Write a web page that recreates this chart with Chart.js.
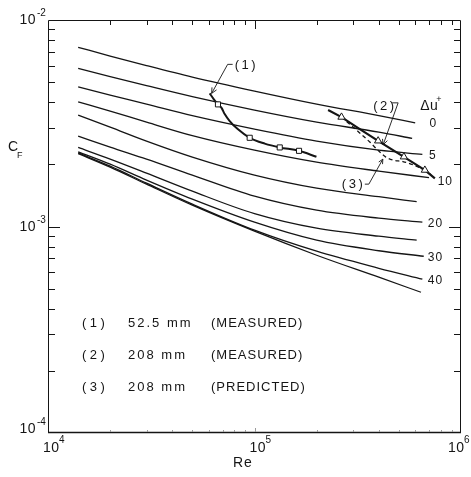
<!DOCTYPE html>
<html>
<head>
<meta charset="utf-8">
<title>Skin friction coefficient vs Reynolds number</title>
<script src="https://cdn.jsdelivr.net/npm/chart.js@4.4.1/dist/chart.umd.min.js"></script>
<style>
  html, body { margin: 0; padding: 0; background: #ffffff; }
  canvas { display: block; }
</style>
</head>
<body>
<canvas id="chart" width="471" height="477"></canvas>
<script>
// Reynolds numbers at which every Δu+ curve is tabulated (each curve's last point follows separately)
const reGrid = [1.4e4, 2e4, 3e4, 5e4, 1e5, 2e5, 4e5];

// Δu+ curves, top to bottom: Cf on reGrid, then Cf at the curve's last Re
const cfCurve1  = [7.375e-3, 6.692e-3, 6.017e-3, 5.293e-3, 4.528e-3, 3.916e-3, 3.444e-3, 3.178e-3];
const cfCurve2  = [5.833e-3, 5.322e-3, 4.814e-3, 4.258e-3, 3.663e-3, 3.203e-3, 2.865e-3, 2.671e-3];
const cfCurve3  = [4.750e-3, 4.330e-3, 3.916e-3, 3.444e-3, 2.963e-3, 2.591e-3, 2.343e-3, 2.234e-3];
const cfCurve4  = [4.018e-3, 3.622e-3, 3.203e-3, 2.755e-3, 2.343e-3, 2.049e-3, 1.854e-3, 1.724e-3];
const cfCurve5  = [3.463e-3, 3.029e-3, 2.591e-3, 2.168e-3, 1.773e-3, 1.533e-3, 1.394e-3, 1.319e-3];
const cfCurve6  = [2.740e-3, 2.423e-3, 2.120e-3, 1.773e-3, 1.402e-3, 1.199e-3, 1.097e-3, 1.049e-3];
const cfCurve7  = [2.415e-3, 2.120e-3, 1.813e-3, 1.483e-3, 1.154e-3, 0.981e-3, 0.8975e-3, 0.8582e-3];
const cfCurve8  = [2.299e-3, 2.004e-3, 1.677e-3, 1.356e-3, 1.049e-3, 0.8582e-3, 0.7632e-3, 0.7178e-3];
const cfCurve9  = [2.271e-3, 1.960e-3, 1.621e-3, 1.283e-3, 0.9596e-3, 0.7589e-3, 0.6277e-3, 0.5555e-3];
const cfCurve10 = [2.254e-3, 1.938e-3, 1.603e-3, 1.268e-3, 0.9489e-3, 0.7258e-3, 0.5680e-3, 0.4804e-3];
const reCurveEnd = [6.0e5, 5.8e5, 6.5e5, 7.0e5, 6.1e5, 6.5e5, 6.1e5, 6.6e5, 6.5e5, 6.4e5];
const curveLabels = ['0', '', '5', '10', '', '20', '', '30', '40', ''];
const curveLabelRe = [7.35e5, null, 7.3e5, 8.4e5, null, 7.52e5, null, 7.52e5, 7.52e5, null];

// (1) 52.5 mm, measured
const re1 = [6.065e4, 6.343e4, 6.654e4, 6.937e4, 7.173e4, 7.584e4, 8.291e4, 9.478e4, 1.121e5, 1.325e5, 1.643e5, 1.995e5];
const cf1 = [4.413e-3, 4.141e-3, 3.903e-3, 3.745e-3, 3.502e-3, 3.239e-3, 2.963e-3, 2.689e-3, 2.520e-3, 2.415e-3, 2.325e-3, 2.175e-3];
const re1Points = [6.654e4, 9.478e4, 1.325e5, 1.643e5];
const cf1Points = [3.903e-3, 2.689e-3, 2.415e-3, 2.325e-3];

// (2) 208 mm, measured
const re2 = [2.272e5, 2.638e5, 3.236e5, 3.969e5, 5.288e5, 6.683e5, 7.473e5];
const cf2 = [3.663e-3, 3.387e-3, 2.963e-3, 2.599e-3, 2.175e-3, 1.875e-3, 1.709e-3];
const re2Points = [2.638e5, 3.969e5, 5.288e5, 6.683e5];
const cf2Points = [3.387e-3, 2.599e-3, 2.175e-3, 1.875e-3];

// (3) 208 mm, predicted
const re3 = [2.638e5, 3.119e5, 3.619e5, 3.956e5, 4.325e5, 4.677e5, 5.229e5, 5.911e5, 6.758e5, 7.308e5];
const cf3 = [3.387e-3, 2.930e-3, 2.563e-3, 2.343e-3, 2.168e-3, 2.097e-3, 2.062e-3, 1.982e-3, 1.854e-3, 1.754e-3];

// axis decades
const xTickValues = [1e4, 1e5, 1e6];
const xTickExps = ['4', '5', '6'];
const yTickValues = [1e-2, 1e-3, 1e-4];
const yTickExps = ['-2', '-3', '-4'];

// key rows
const keyTags = ['(1)', '(2)', '(3)'];
const keySizes = ['52.5 mm', '208 mm', '208 mm'];
const keyKinds = ['(MEASURED)', '(MEASURED)', '(PREDICTED)'];

const INK = '#151515';
const FONT = '"Liberation Sans", Arial, sans-serif';

const cfCurves = [cfCurve1, cfCurve2, cfCurve3, cfCurve4, cfCurve5, cfCurve6, cfCurve7, cfCurve8, cfCurve9, cfCurve10];
const toPts = (xs, ys) => xs.map((v, i) => ({ x: v, y: ys[i] }));

const datasets = [];
// markers on top
datasets.push({ data: toPts(re1Points, cf1Points), showLine: false, pointStyle: 'rect', pointRadius: 3.6,
  backgroundColor: '#ffffff', borderColor: INK, borderWidth: 1, order: 0 });
datasets.push({ data: toPts(re2Points, cf2Points), showLine: false, pointStyle: 'triangle', pointRadius: 4.2,
  backgroundColor: '#ffffff', borderColor: INK, borderWidth: 1, order: 0 });
// data lines
datasets.push({ data: toPts(re1, cf1), borderColor: INK, borderWidth: 2, pointRadius: 0,
  cubicInterpolationMode: 'monotone', order: 1 });
datasets.push({ data: toPts(re2, cf2), borderColor: INK, borderWidth: 2.2, pointRadius: 0, order: 1 });
datasets.push({ data: toPts(re3, cf3), borderColor: INK, borderWidth: 1.3, borderDash: [4, 3], pointRadius: 0,
  cubicInterpolationMode: 'monotone', order: 1 });
// Δu+ family
cfCurves.forEach((cf, i) => {
  const pts = reGrid.map((r, k) => ({ x: r, y: cf[k] }));
  pts.push({ x: reCurveEnd[i], y: cf[cf.length - 1] });
  datasets.push({ data: pts, borderColor: INK, borderWidth: 1.3, pointRadius: 0,
    cubicInterpolationMode: 'monotone', order: 2 });
});

function text(ctx, s, x, y, size, align, spacing) {
  ctx.font = size + 'px ' + FONT;
  ctx.textAlign = align || 'left';
  ctx.letterSpacing = (spacing || 0) + 'px';
  ctx.fillText(s, x, y);
}
function line(ctx, pts) {
  ctx.beginPath();
  ctx.moveTo(pts[0][0], pts[0][1]);
  for (let i = 1; i < pts.length; i++) ctx.lineTo(pts[i][0], pts[i][1]);
  ctx.stroke();
}
function arrowHead(ctx, from, tip, size) {
  const a = Math.atan2(tip[1] - from[1], tip[0] - from[0]);
  ctx.beginPath();
  ctx.moveTo(tip[0] - size * Math.cos(a - 0.45), tip[1] - size * Math.sin(a - 0.45));
  ctx.lineTo(tip[0], tip[1]);
  ctx.lineTo(tip[0] - size * Math.cos(a + 0.45), tip[1] - size * Math.sin(a + 0.45));
  ctx.stroke();
}

const frame = {
  id: 'frame',
  afterDraw(chart) {
    const { ctx, chartArea: a, scales: { x, y } } = chart;
    ctx.save();
    ctx.strokeStyle = INK;
    ctx.fillStyle = INK;
    ctx.lineWidth = 1;
    ctx.textBaseline = 'alphabetic';

    // box
    line(ctx, [[a.left + 0.5, a.bottom], [a.left + 0.5, a.top + 0.5], [a.right - 0.5, a.top + 0.5], [a.right - 0.5, a.bottom]]);
    ctx.lineWidth = 1.6;
    line(ctx, [[a.left, a.bottom - 0.5], [a.right, a.bottom - 0.5]]);
    ctx.lineWidth = 1;

    // ticks on all four sides, pointing inward
    for (const d of [1e4, 1e5]) {
      for (let m = 1; m < 10; m++) {
        const v = m * d;
        if (v === 1e4) continue;
        const px = Math.round(x.getPixelForValue(v)) + 0.5;
        const major = m === 1;
        line(ctx, [[px, a.top], [px, a.top + (major ? 9 : 5)]]);
        ctx.strokeStyle = '#9a9a9a';
        line(ctx, [[px, a.bottom - 1], [px, a.bottom - (major ? 5 : 3)]]);
        ctx.strokeStyle = INK;
      }
    }
    for (const d of [1e-4, 1e-3]) {
      for (let m = 1; m < 10; m++) {
        const v = m * d;
        if (v === 1e-4) continue;
        const py = Math.round(y.getPixelForValue(v)) + 0.5;
        const len = m === 1 ? 12 : 7;
        line(ctx, [[a.left, py], [a.left + len, py]]);
        line(ctx, [[a.right, py], [a.right - len, py]]);
      }
    }

    // decade labels
    ctx.fillStyle = INK;
    xTickValues.forEach((v, i) => {
      const px = x.getPixelForValue(v);
      const left = Math.min(px - 5, 470 - 22);
      text(ctx, '10', left, a.bottom + 19, 14, 'left', 0.5);
      text(ctx, xTickExps[i], left + 16, a.bottom + 10, 10, 'left', 0);
    });
    yTickValues.forEach((v, i) => {
      const py = y.getPixelForValue(v);
      const base = Math.min(py + 4, a.bottom);
      text(ctx, '10', 36, base, 14, 'right', 0.5);
      text(ctx, yTickExps[i], 37, base - 8, 10, 'left', 0);
    });

    // axis titles
    text(ctx, 'C', 8, 151, 14, 'left', 0);
    text(ctx, 'F', 17, 158, 9, 'left', 0);
    text(ctx, 'Re', 233, 467, 14, 'left', 1);

    // Δu+ curve labels
    cfCurves.forEach((cf, i) => {
      if (!curveLabels[i]) return;
      const px = x.getPixelForValue(curveLabelRe[i]);
      const py = y.getPixelForValue(cf[cf.length - 1]) + (curveLabels[i] === '10' ? 4 : 1);
      ctx.textBaseline = 'middle';
      text(ctx, curveLabels[i], px, py, 12, 'center', 1);
      ctx.textBaseline = 'alphabetic';
    });
    const e1x = x.getPixelForValue(reCurveEnd[0]);
    const e1y = y.getPixelForValue(cfCurve1[cfCurve1.length - 1]);
    text(ctx, 'Δu', e1x + 5, e1y - 13, 14, 'left', 0.5);
    text(ctx, '+', e1x + 21, e1y - 21, 9, 'left', 0);

    // series callouts
    ctx.lineWidth = 0.9;
    const t1 = [x.getPixelForValue(re1[0]), y.getPixelForValue(cf1[0])];
    text(ctx, '(1)', t1[0] + 25, t1[1] - 24, 13, 'left', 2.5);
    line(ctx, [[t1[0] + 23, t1[1] - 29], [t1[0] + 18, t1[1] - 29], [t1[0] + 2, t1[1]]]);
    arrowHead(ctx, [t1[0] + 18, t1[1] - 29], [t1[0] + 2, t1[1]], 6);

    const t2 = [x.getPixelForValue(re2[3]), y.getPixelForValue(cf2[3])];
    text(ctx, '(2)', t2[0] - 5, t2[1] - 31, 13, 'left', 2.5);
    line(ctx, [[t2[0] + 14, t2[1] - 38], [t2[0] + 20, t2[1] - 38], [t2[0] + 5, t2[1] + 4]]);
    arrowHead(ctx, [t2[0] + 20, t2[1] - 38], [t2[0] + 5, t2[1] + 4], 6);

    const t3 = [x.getPixelForValue(re3[3]), y.getPixelForValue(cf3[3])];
    text(ctx, '(3)', t3[0] - 36, t3[1] + 38, 13, 'left', 2.5);
    line(ctx, [[t3[0] - 13, t3[1] + 34], [t3[0] - 9, t3[1] + 34], [t3[0] + 5, t3[1] + 9]]);
    arrowHead(ctx, [t3[0] - 9, t3[1] + 34], [t3[0] + 5, t3[1] + 9], 5);

    // key
    const rows = [327, 359, 391];
    keyTags.forEach((tag, i) => {
      text(ctx, tag, 82, rows[i], 13, 'left', 3.5);
      text(ctx, keySizes[i], 128, rows[i], 13, 'left', 2);
      text(ctx, keyKinds[i], 211, rows[i], 13, 'left', 1);
    });
    ctx.restore();
  }
};

new Chart(document.getElementById('chart'), {
  type: 'line',
  data: { datasets },
  options: {
    responsive: false,
    animation: false,
    devicePixelRatio: 1,
    layout: { padding: { left: 48, top: 20, right: 10, bottom: 44 } },
    plugins: { legend: { display: false }, tooltip: { enabled: false } },
    scales: {
      x: { type: 'logarithmic', min: 1e4, max: 1e6, display: false },
      y: { type: 'logarithmic', min: 1e-4, max: 1e-2, display: false }
    }
  },
  plugins: [frame]
});
</script>
</body>
</html>
